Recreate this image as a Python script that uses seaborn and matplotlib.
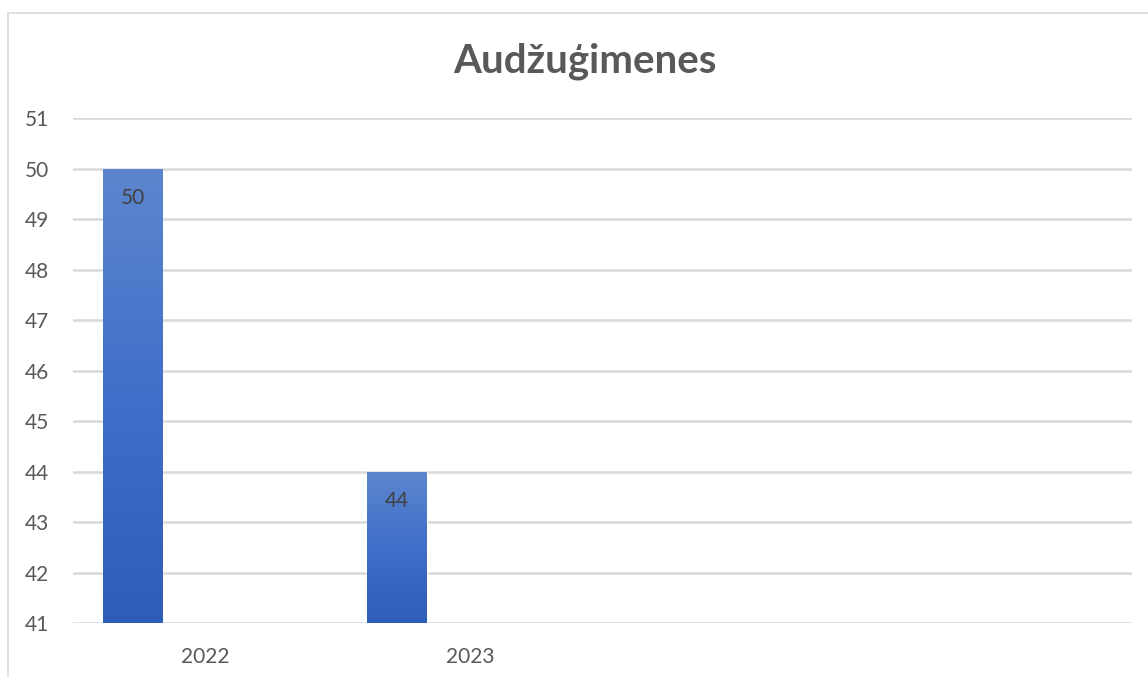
import numpy as np
import pandas as pd
import matplotlib
matplotlib.use("Agg")
import matplotlib.pyplot as plt
from matplotlib.patches import Rectangle
from matplotlib.colors import LinearSegmentedColormap
import seaborn as sns

# ---- data ----
years = ["2022", "2023"]
values = [50, 44]
series_names = ["Audžuģimenes", "s2", "s3"]
title = "Audžuģimenes"
y_ticks = [41, 42, 43, 44, 45, 46, 47, 48, 49, 50, 51]

rows = []
for y, v in zip(years, values):
    rows.append({"year": y, "series": series_names[0], "value": v})
    for s in series_names[1:]:
        rows.append({"year": y, "series": s, "value": np.nan})
df = pd.DataFrame(rows)

sns.set_theme(style="white")
plt.rcParams["font.family"] = ["Lato", "DejaVu Sans"]

W, H = 1148, 677
fig = plt.figure(figsize=(W / 100, H / 100), dpi=100)
ax = fig.add_axes([73 / W, (H - 623) / H, (1132 - 73) / W, (623 - 118) / H])

sns.barplot(data=df, x="year", y="value", hue="series", hue_order=series_names,
            order=years, width=0.825, gap=0.18, ax=ax, legend=False,
            palette=["#4472C4"] * 3, saturation=1)

ax.set_ylim(41, 51)
ax.set_xlim(-0.5, 3.5)
ax.set_yticks(y_ticks)
ax.set_yticklabels([str(t) for t in y_ticks])
ax.yaxis.grid(True, color="#D9D9D9", linewidth=1.8)
ax.set_axisbelow(True)
for s in ax.spines.values():
    s.set_visible(False)
ax.set_xlabel("")
ax.set_ylabel("")
ax.tick_params(axis="y", length=0, pad=17, labelsize=15, labelcolor="#595959")
ax.tick_params(axis="x", length=0, pad=17, labelsize=15, labelcolor="#595959")

# gradient fill + labels
cmap = LinearSegmentedColormap.from_list("g", ["#2E5DB8", "#3F6FC8", "#5E86CF"])
grad = np.linspace(0, 1, 256).reshape(-1, 1)
for p in list(ax.patches):
    h = p.get_height()
    if not np.isfinite(h) or h <= 0:
        continue
    x0, w = p.get_x(), p.get_width()
    im = ax.imshow(grad, cmap=cmap, aspect="auto", origin="lower",
                   extent=[x0, x0 + w, 41, h], zorder=p.get_zorder() + 0.1)
    im.set_clip_path(p)
    ax.annotate(f"{h:g}", (x0 + w / 2, h), xytext=(0, -21), textcoords="offset points",
                ha="center", va="center", fontsize=15, color="#404040", zorder=5)
ax.set_xlim(-0.5, 3.5)
ax.set_ylim(41, 51)

fig.text(585 / W, 1 - 61 / H, title, ha="center", va="center",
         fontsize=29, fontweight="bold", color="#595959")

fig.patches.append(Rectangle((8 / W, -0.01), 1.1, 1 - 13 / H + 0.01, transform=fig.transFigure,
                             fill=False, edgecolor="#D9D9D9", linewidth=1.2))

fig.savefig("out.png", dpi=100, facecolor="white")
